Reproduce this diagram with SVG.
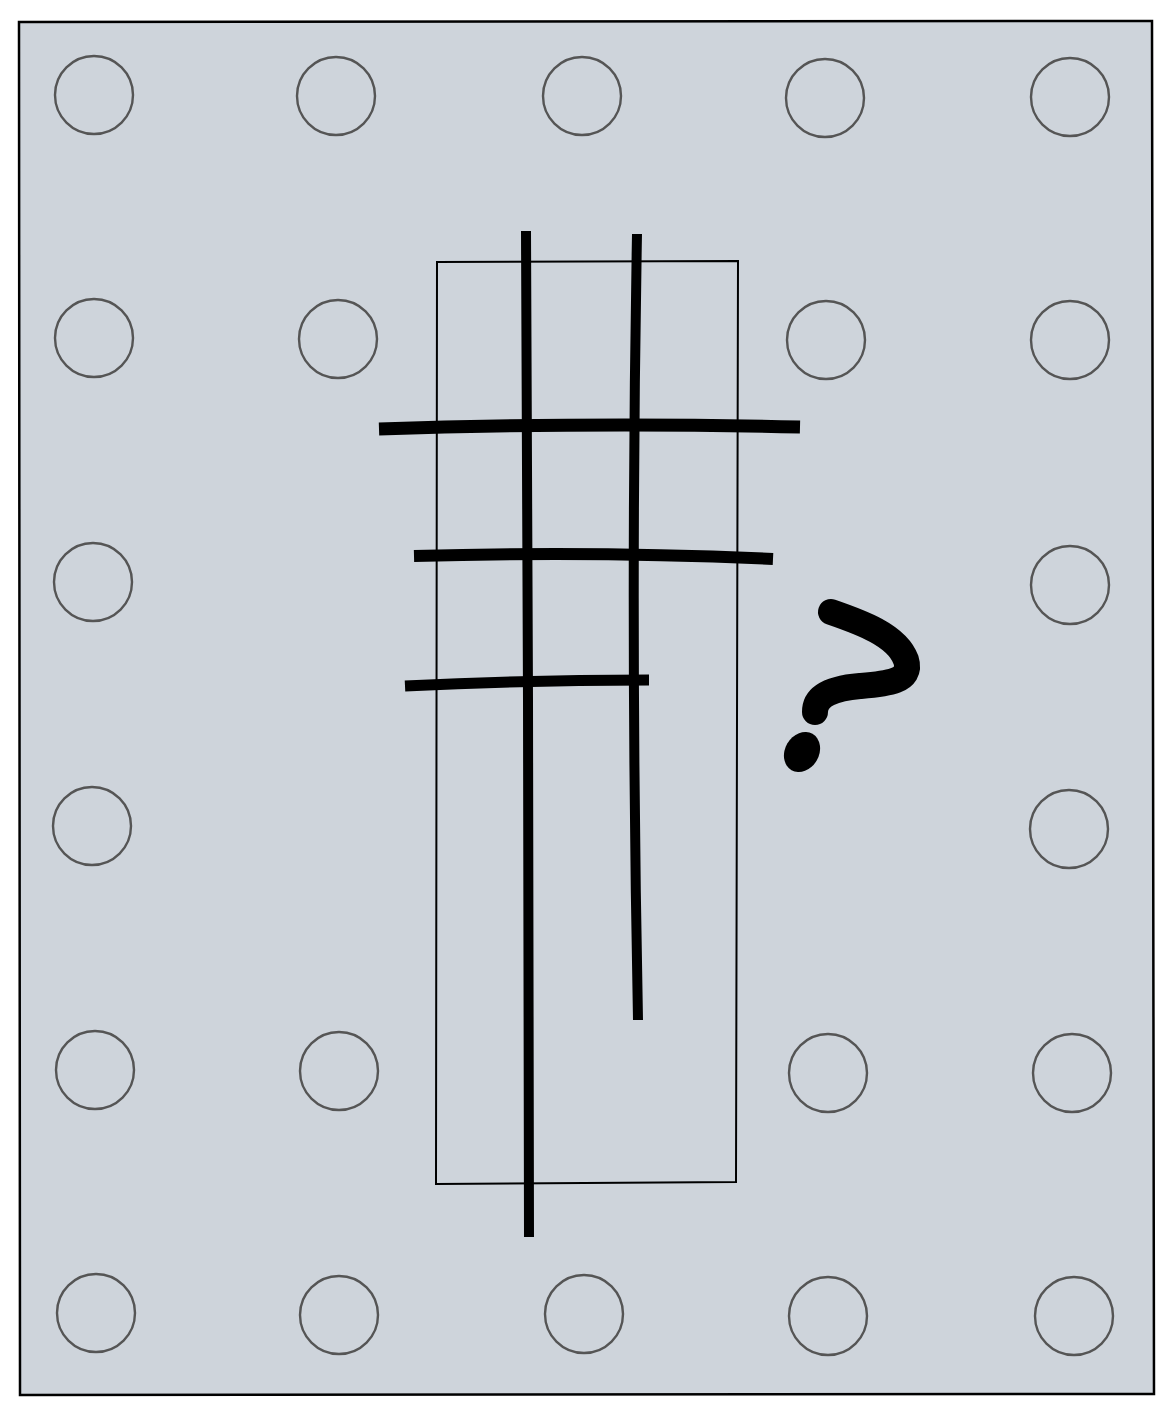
<svg xmlns="http://www.w3.org/2000/svg" width="1173" height="1416" viewBox="0 0 1173 1416">
<style>
.c{fill:none;stroke:#555;stroke-width:2.4}
.t{stroke:#000;stroke-linecap:butt;fill:none}
</style>
<rect width="1173" height="1416" fill="#fff"/>
<g id="board">
<path d="M19 22 L1152 21 L1154 1394 L20 1395 Z" fill="#ced4db" stroke="#000" stroke-width="2.5"/>
</g>
<g id="holes">
<circle class="c" cx="94" cy="95" r="39"/>
<circle class="c" cx="336" cy="96" r="39"/>
<circle class="c" cx="582" cy="96" r="39"/>
<circle class="c" cx="825" cy="98" r="39"/>
<circle class="c" cx="1070" cy="97" r="39"/>
<circle class="c" cx="94" cy="338" r="39"/>
<circle class="c" cx="338" cy="339" r="39"/>
<circle class="c" cx="826" cy="340" r="39"/>
<circle class="c" cx="1070" cy="340" r="39"/>
<circle class="c" cx="93" cy="582" r="39"/>
<circle class="c" cx="1070" cy="585" r="39"/>
<circle class="c" cx="92" cy="826" r="39"/>
<circle class="c" cx="1069" cy="829" r="39"/>
<circle class="c" cx="95" cy="1070" r="39"/>
<circle class="c" cx="339" cy="1071" r="39"/>
<circle class="c" cx="828" cy="1073" r="39"/>
<circle class="c" cx="1072" cy="1073" r="39"/>
<circle class="c" cx="96" cy="1313" r="39"/>
<circle class="c" cx="339" cy="1315" r="39"/>
<circle class="c" cx="584" cy="1314" r="39"/>
<circle class="c" cx="828" cy="1316" r="39"/>
<circle class="c" cx="1074" cy="1316" r="39"/>
</g>
<g id="frame">
<path d="M437 262 L738 261 L736 1182 L436 1184 Z" fill="none" stroke="#000" stroke-width="2"/>
</g>
<g id="connectors">
<path class="t" d="M526 231 L528 700 L529 1237" stroke-width="10"/>
<path class="t" d="M637 234 Q630 620 638 1020" stroke-width="10"/>
<path class="t" d="M379 429 Q590 422 800 427" stroke-width="13"/>
<path class="t" d="M414 556 Q600 551 773 559" stroke-width="12"/>
<path class="t" d="M405 686 Q530 680 649 680" stroke-width="11"/>
</g>
<g id="question">
<path d="M831 612 C860 622 897 635 906 660 C913 682 885 684 860 686 C835 688 815 695 815 712" fill="none" stroke="#000" stroke-width="26" stroke-linecap="round" stroke-linejoin="round"/>
<ellipse cx="802" cy="752" rx="17" ry="21" transform="rotate(30 802 752)" fill="#000"/>
</g>
</svg>
